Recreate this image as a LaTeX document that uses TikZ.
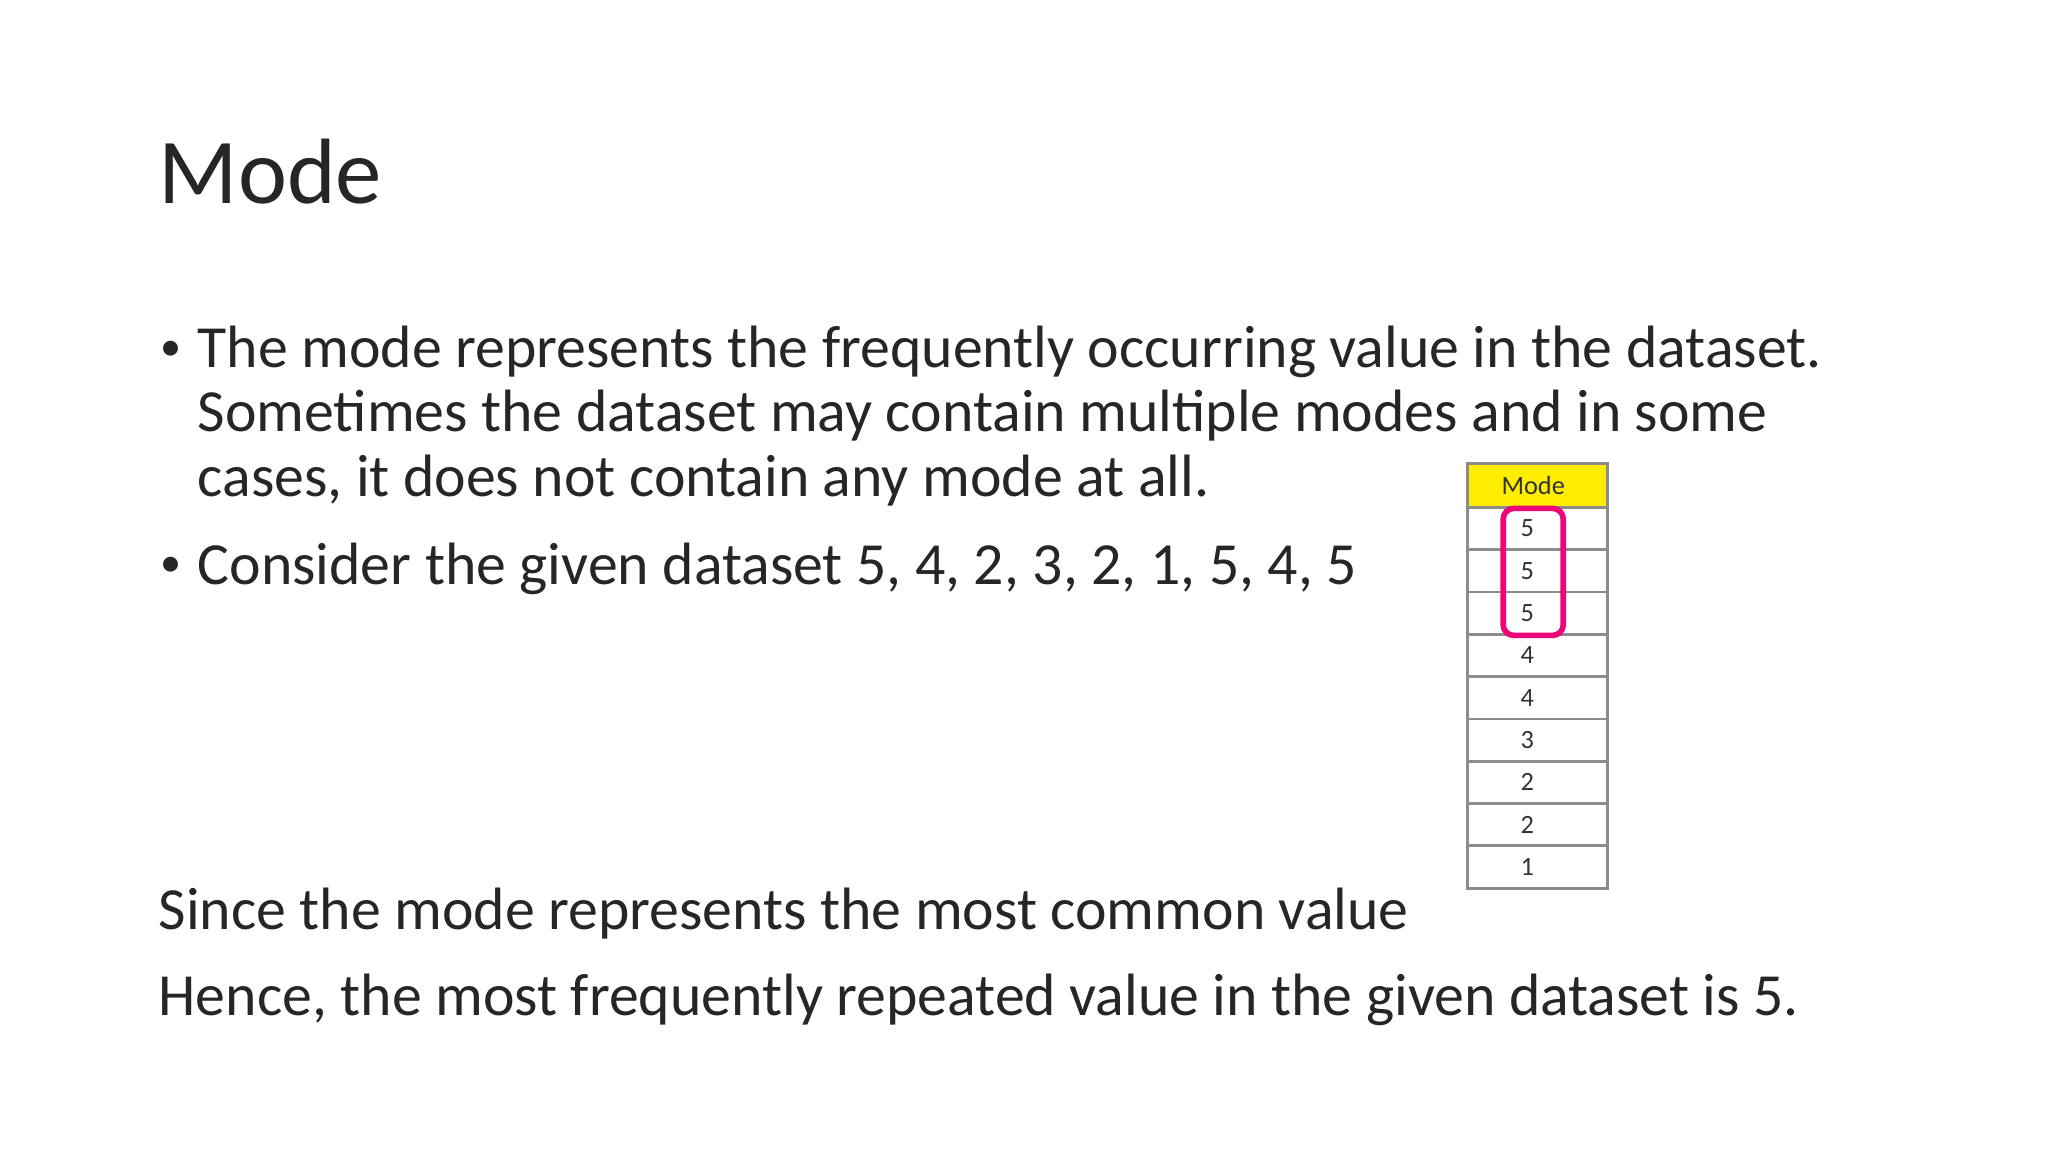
\documentclass[tikz,border=0pt]{standalone}
\usepackage{fontspec}
\setmainfont{Carlito}
\begin{document}
\begin{tikzpicture}[x=0.01cm,y=-0.01cm,
  body/.style={anchor=base west,inner sep=0pt,font=\fontsize{17}{21}\selectfont,text=black!85},
  num/.style={font=\fontsize{7.5}{9}\selectfont,text=black!80,inner sep=0pt}]
\useasboundingbox (0,0) rectangle (2048,1152);
\node[body,font=\fontsize{26.4}{32}\selectfont] (title) at (158,204) {Mode};
\node[body,font=\fontsize{12}{14}\selectfont] (b1) at (160,361) {•};
\node[body] (l1) at (197,368) {The mode represents the frequently occurring value in the dataset.};
\node[body] (l2) at (197,432) {Sometimes the dataset may contain multiple modes and in some};
\node[body] (l3) at (197,497) {cases, it does not contain any mode at all.};
\node[body,font=\fontsize{12}{14}\selectfont] (b2) at (160,577) {•};
\node[body] (l4) at (197,584) {Consider the given dataset 5, 4, 2, 3, 2, 1, 5, 4, 5};
\node[body] (s1) at (158,929) {Since the mode represents the most common value};
\node[body] (s2) at (158,1015) {Hence, the most frequently repeated value in the given dataset is 5.};
% table
\begin{scope}[xshift=-17,yshift=5]
\fill[yellow!95!orange] (1527,481) rectangle (1667,525);
\draw[black!45,line width=0.8pt] (1527,481) rectangle (1667,906);
\foreach \i in {0,...,8} \draw[black!45,line width=0.8pt] (1527,525+42.3*\i) -- (1667,525+42.3*\i);
\node[num] (hdr) at (1593,503) {Mode};
\foreach \v [count=\i from 0] in {5,5,5,4,4,3,2,2,1}
  \node[num] (n\i) at (1587,546+42.3*\i) {\v};
\draw[magenta!80!red,line width=1.6pt,rounded corners=3pt] (1563,526) rectangle (1623,653);
\end{scope}
\end{tikzpicture}
\end{document}
